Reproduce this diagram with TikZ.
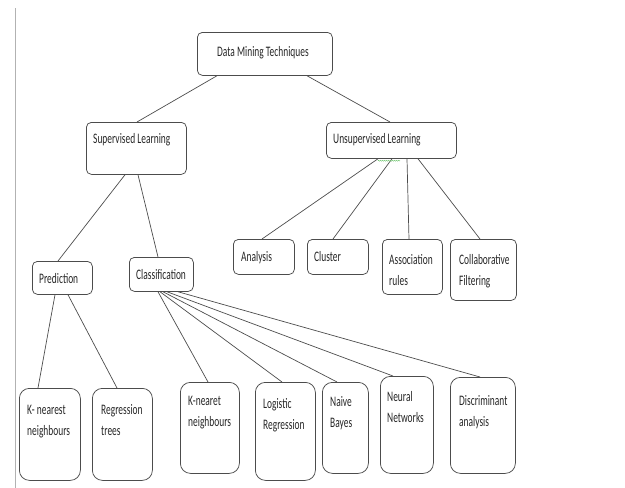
\documentclass[tikz,border=0pt]{standalone}
\usepackage{fontspec}
\usetikzlibrary{calc,decorations.pathmorphing}
\newfontfamily\calfont[FakeStretch=0.65]{Carlito}
\tikzset{
  bx/.style={draw=black!70, line width=0.75pt, rounded corners=5pt, anchor=north west, inner sep=0pt},
  bxb/.style={bx, rounded corners=10pt},
  txt/.style={anchor=base west, inner sep=0pt, align=left, text=black!85,
    font=\calfont\fontsize{14.5}{21.5}\selectfont},
  txtt/.style={txt, yshift=-21.5pt},
  con/.style={draw=black!70, line width=0.7pt},
}
\begin{document}
\begin{tikzpicture}[x=1pt,y=-1pt]
\useasboundingbox (0,0) rectangle (625,488);
\draw[black!30, line width=0.7pt] (15,8) -- (15,488);
% boxes
\node[bx, minimum width=135pt, minimum height=43pt] (dmt) at (197,32) {};
\node[bx, minimum width=100pt, minimum height=52pt] (sl) at (86,122) {};
\node[bx, minimum width=130pt, minimum height=36pt] (ul) at (326,122) {};
\node[bx, minimum width=60pt, minimum height=33pt] (pred) at (32,261) {};
\node[bx, minimum width=64pt, minimum height=34pt] (cls) at (129,257) {};
\node[bx, minimum width=61pt, minimum height=35pt] (ana) at (233,239) {};
\node[bx, minimum width=61pt, minimum height=35pt] (clu) at (307,239) {};
\node[bx, minimum width=60pt, minimum height=55pt] (asr) at (382,239) {};
\node[bx, minimum width=66pt, minimum height=61pt] (col) at (450,239) {};
\node[bxb, minimum width=61pt, minimum height=92pt] (knn1) at (19,388) {};
\node[bxb, minimum width=60pt, minimum height=92pt] (rt) at (92,388) {};
\node[bxb, minimum width=59pt, minimum height=91pt] (knn2) at (180,382) {};
\node[bxb, minimum width=60pt, minimum height=98pt] (lr) at (255,382) {};
\node[bxb, minimum width=46pt, minimum height=91pt] (nb) at (322,382) {};
\node[bxb, minimum width=53pt, minimum height=97pt] (nn) at (380,376) {};
\node[bxb, minimum width=65pt, minimum height=96pt] (da) at (450,377) {};
% texts
\node[txt] (tdmt) at (217,56) {Data Mining Techniques};
\node[txt] (tsl) at (93,143) {Supervised Learning};
\node[txt] (tul) at (333,143) {Unsupervised Learning};
\node[txt] (tpred) at (39,283) {Prediction};
\node[txt] (tcls) at (136,279) {Classification};
\node[txt] (tana) at (241,261) {Analysis};
\node[txt] (tclu) at (314,261) {Cluster};
\node[txtt] (tasr) at (389,264) {Association\\rules};
\node[txtt] (tcol) at (459,264) {Collaborative\\Filtering};
\node[txtt] (tknn1) at (27,414) {K- nearest\\neighbours};
\node[txtt] (trt) at (101,414) {Regression\\trees};
\node[txtt] (tknn2) at (188,405) {K-nearet\\neighbours};
\node[txtt] (tlr) at (263,408) {Logistic\\Regression};
\node[txtt] (tnb) at (330,406) {Naive\\Bayes};
\node[txtt] (tnn) at (387,401) {Neural\\Networks};
\node[txtt] (tda) at (459,405) {Discriminant\\analysis};
% connectors
\draw[con] ($(dmt.south west)+(20,0)$) -- ($(sl.north west)+(51,0)$);
\draw[con] ($(dmt.south west)+(110,0)$) -- ($(ul.north west)+(64,0)$);
\draw[con] ($(sl.south west)+(39,0)$) -- ($(pred.north west)+(26,0)$);
\draw[con] ($(sl.south west)+(52,0)$) -- ($(cls.north west)+(29,0)$);
\draw[con] ($(ul.south west)+(52,0)$) -- ($(ana.north west)+(29,0)$);
\draw[con] ($(ul.south west)+(66,0)$) -- ($(clu.north west)+(26,0)$);
\draw[con] ($(ul.south west)+(81,0)$) -- ($(asr.north west)+(27,0)$);
\draw[con] ($(ul.south west)+(92,0)$) -- ($(col.north west)+(30,0)$);
\draw[con] ($(pred.south west)+(23,0)$) -- ($(knn1.north west)+(19,0)$);
\draw[con] ($(pred.south west)+(36,0)$) -- ($(rt.north west)+(25,0)$);
\draw[con] ($(cls.south west)+(29,0)$) -- ($(knn2.north west)+(28,0)$);
\draw[con] ($(cls.south west)+(31,0)$) -- ($(lr.north west)+(27,0)$);
\draw[con] ($(cls.south west)+(34,0)$) -- ($(nb.north west)+(15,0)$);
\draw[con] ($(cls.south west)+(38,0)$) -- ($(nn.north west)+(13,0)$);
\draw[con] ($(cls.south west)+(49,0)$) -- ($(da.north west)+(30,0)$);
% green underline mark
\draw[green!60!black!60, line width=0.5pt, decorate, decoration={snake, amplitude=0.5pt, segment length=2pt}]
  ($(ul.south west)+(52,2)$) -- ($(ul.south west)+(74,2)$);
\end{tikzpicture}
\end{document}
